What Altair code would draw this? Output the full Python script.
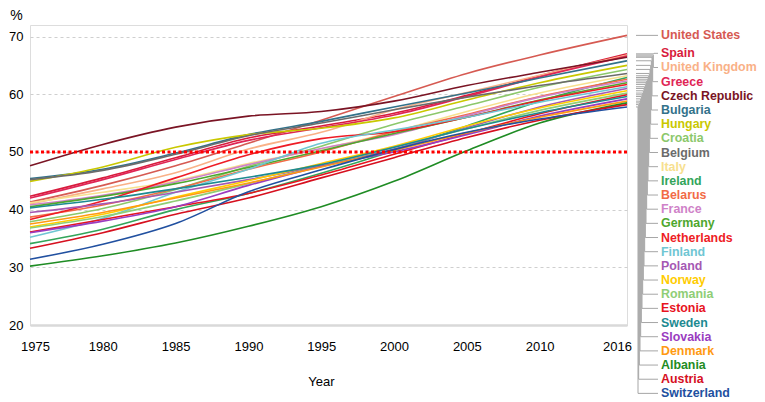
import altair as alt
import pandas as pd

FONT = "Liberation Sans, Arial, sans-serif"

years = [1975, 1980, 1985, 1990, 1995, 2000, 2005, 2010, 2016]

united_states  = [41.3, 44.2, 47.6, 51.5, 55.5, 59.6, 63.6, 66.8, 70.2]
spain          = [42.3, 45.5, 49.0, 52.4, 54.5, 56.7, 59.8, 63.2, 67.0]
united_kingdom = [41.0, 43.6, 46.4, 50.5, 53.4, 57.3, 60.3, 63.3, 66.8]
greece         = [42.0, 45.2, 48.7, 52.0, 54.2, 56.4, 59.6, 63.0, 66.6]
czech_republic = [47.6, 51.3, 54.3, 56.2, 57.0, 58.8, 61.5, 63.8, 66.4]
bulgaria       = [45.4, 47.0, 49.8, 53.0, 55.3, 57.8, 60.2, 62.8, 65.8]
hungary        = [44.9, 47.4, 50.8, 53.0, 54.1, 55.9, 59.0, 62.0, 65.0]
croatia        = [37.9, 40.2, 43.5, 47.5, 51.0, 54.8, 58.0, 61.2, 64.3]
belgium        = [45.2, 46.8, 49.6, 52.8, 55.0, 57.3, 59.5, 61.5, 63.6]
italy          = [41.2, 43.0, 45.0, 48.0, 50.5, 53.5, 57.0, 60.2, 63.2]
ireland        = [34.1, 36.6, 40.0, 42.8, 46.3, 50.2, 54.5, 58.8, 62.9]
belarus        = [38.7, 40.8, 43.6, 47.0, 50.0, 53.5, 56.5, 59.6, 62.6]
france         = [40.8, 42.5, 44.8, 47.8, 50.6, 53.0, 56.3, 59.5, 62.3]
germany        = [40.5, 42.3, 44.5, 47.3, 50.2, 53.2, 56.0, 59.0, 62.0]
netherlands    = [38.3, 41.5, 45.5, 49.5, 52.3, 53.5, 56.0, 58.9, 61.7]
finland        = [35.2, 38.5, 43.0, 47.0, 51.5, 53.8, 56.0, 58.6, 61.3]
poland         = [39.5, 41.0, 43.0, 45.2, 47.6, 50.5, 54.2, 57.8, 61.0]
norway         = [37.0, 39.2, 42.2, 45.0, 48.0, 51.0, 54.5, 57.6, 60.6]
romania        = [36.8, 38.8, 41.5, 44.5, 47.6, 50.8, 54.0, 57.2, 60.2]
estonia        = [36.1, 38.3, 40.5, 42.8, 46.0, 49.6, 53.2, 56.6, 59.9]
sweden         = [40.3, 41.8, 43.6, 45.6, 47.8, 50.8, 54.0, 56.8, 59.6]
slovakia       = [36.0, 38.0, 40.5, 44.2, 47.5, 50.0, 53.0, 56.2, 59.2]
denmark        = [37.5, 39.5, 42.0, 44.6, 47.4, 50.3, 53.3, 56.0, 58.8]
albania        = [30.2, 32.0, 34.2, 37.1, 40.5, 44.9, 50.2, 55.0, 58.5]
austria        = [33.3, 36.0, 39.2, 42.0, 45.5, 49.0, 52.5, 55.5, 58.2]
switzerland    = [31.4, 34.0, 37.6, 43.1, 46.9, 50.4, 53.4, 55.7, 57.8]

countries = ["United States", "Spain", "United Kingdom", "Greece", "Czech Republic",
             "Bulgaria", "Hungary", "Croatia", "Belgium", "Italy", "Ireland", "Belarus",
             "France", "Germany", "Netherlands", "Finland", "Poland", "Norway", "Romania",
             "Estonia", "Sweden", "Slovakia", "Denmark", "Albania", "Austria", "Switzerland"]
series = [united_states, spain, united_kingdom, greece, czech_republic, bulgaria, hungary,
          croatia, belgium, italy, ireland, belarus, france, germany, netherlands, finland,
          poland, norway, romania, estonia, sweden, slovakia, denmark, albania, austria,
          switzerland]
colors = ["#d65a52", "#d81b3c", "#f9b187", "#df2555", "#7a1424", "#33728a", "#c9c800",
          "#8cc86b", "#6b6b6b", "#f7e08e", "#33a55a", "#f26b46", "#cf82c8", "#4ea72e",
          "#ee1c25", "#6fc6d3", "#a558b3", "#ffcc00", "#8fce76", "#e8141e", "#1d8a91",
          "#9a3cc0", "#ff9a12", "#1f8c24", "#d6101f", "#2150a0"]

threshold = [50]
y_ticks = [20, 30, 40, 50, 60, 70]
x_ticks = [1975, 1980, 1985, 1990, 1995, 2000, 2005, 2010, 2016]

# ---- long table for the lines
rows = []
for c, vals in zip(countries, series):
    for yr, v in zip(years, vals):
        rows.append({"country": c, "year": yr, "value": v})
df = pd.DataFrame(rows)

# ---- label layout (derived from end values and legend rank)
LABEL_TOP = 67.09
LABEL_STEP = 2.456
PX_PER_YEAR = 597 / 41
def px_to_year(px):
    return 1975 + (px - 30) / PX_PER_YEAR

lead_rows = []
label_rows = []
for r, (c, vals) in enumerate(zip(countries, series)):
    end = vals[-1]
    label_y = end if r == 0 else LABEL_TOP - (r - 1) * LABEL_STEP
    elbow = px_to_year(654 - max(r - 1, 0) * 16 / 24)
    pts = [(px_to_year(636), end), (elbow, end), (elbow, label_y), (px_to_year(658), label_y)]
    for k, (xx, yy) in enumerate(pts):
        lead_rows.append({"country": c, "k": k, "x": xx, "y": yy})
    label_rows.append({"country": c, "x": px_to_year(661), "y": label_y})
lead_df = pd.DataFrame(lead_rows)
label_df = pd.DataFrame(label_rows)

color_scale = alt.Scale(domain=countries, range=colors)
x_scale = alt.Scale(domain=[1975, 2016], nice=False, zero=False)
y_scale = alt.Scale(domain=[20, 72], nice=False, zero=False)

x_axis = alt.Axis(values=x_ticks, format="d", grid=False, ticks=False, tickSize=0,
                  domain=True, domainColor="#d9d9d9", domainWidth=2.5,
                  labelFont=FONT, labelFontSize=13, labelColor="#000000",
                  labelPadding=21, labelBaseline="middle", labelFlush=False,
                  labelOffset=alt.ExprRef("datum.value == 1975 ? 5 : datum.value == 2016 ? -10 : 0"),
                  title="Year", titleFont=FONT, titleFontSize=13, titleFontWeight="normal",
                  titleColor="#000000", titleX=291, titleY=56, titleBaseline="middle",
                  titleAlign="center")
y_axis = alt.Axis(values=y_ticks, grid=True, gridDash=[3, 3], gridColor="#cfcfcf",
                  gridWidth=1, ticks=False, tickSize=0, domain=False,
                  labelFont=FONT, labelFontSize=13, labelColor="#000000", labelPadding=7,
                  title="%", titleFont=FONT, titleFontSize=14, titleFontWeight="normal",
                  titleColor="#000000", titleAngle=0, titleX=-14, titleY=-10,
                  titleAlign="center", titleBaseline="middle")

lines = alt.Chart(df).mark_line(strokeWidth=1.6, interpolate="monotone").encode(
    x=alt.X("year:Q", scale=x_scale, axis=x_axis),
    y=alt.Y("value:Q", scale=y_scale, axis=y_axis),
    color=alt.Color("country:N", scale=color_scale, legend=None),
    detail="country:N",
)

rule = alt.Chart(pd.DataFrame({"v": threshold})).mark_rule(
    color="#ff0000", strokeWidth=3, strokeDash=[3, 2.5]
).encode(y=alt.Y("v:Q", scale=y_scale))

leaders = alt.Chart(lead_df).mark_line(color="#a6a6a6", strokeWidth=1).encode(
    x=alt.X("x:Q", scale=x_scale),
    y=alt.Y("y:Q", scale=y_scale),
    detail="country:N",
    order="k:Q",
)

labels = alt.Chart(label_df).mark_text(
    align="left", baseline="middle", font=FONT, fontSize=12.4, fontWeight="bold"
).encode(
    x=alt.X("x:Q", scale=x_scale),
    y=alt.Y("y:Q", scale=y_scale),
    text="country:N",
    color=alt.Color("country:N", scale=color_scale, legend=None),
)

chart = alt.layer(lines, rule, leaders, labels).properties(
    width=597, height=300,
    autosize=alt.AutoSizeParams(type="none"),
    padding={"left": 22, "top": 17, "right": 130, "bottom": 77},
).configure_view(stroke=None).configure(background="white")

chart.save("out.html", embed_options={"renderer": "svg", "actions": False})
